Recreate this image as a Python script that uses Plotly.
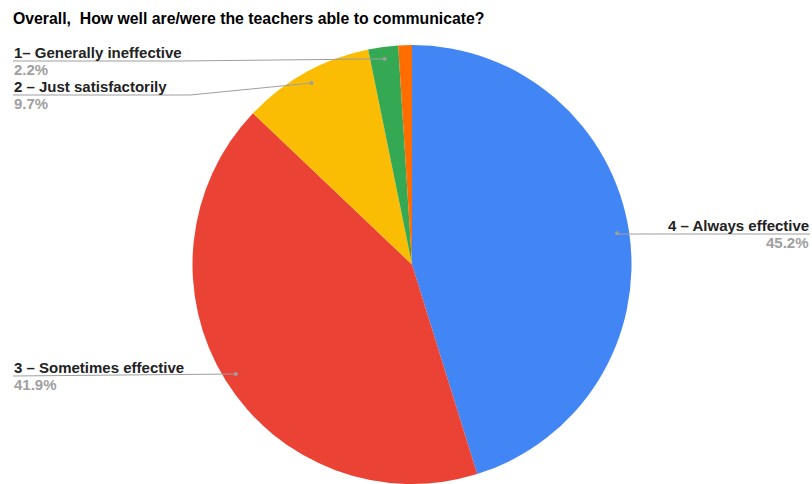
import math
import plotly.graph_objects as go

# ---- data ----
categories = ["4 – Always effective", "3 – Sometimes effective", "2 – Just satisfactorily",
              "1– Generally ineffective", "0 – Not effective"]
values = [45.2, 41.9, 9.7, 2.2, 1.0]
colors = ["#4285F4", "#EA4335", "#FBBC04", "#34A853", "#FF6D01"]
title_text = "Overall,\u00a0 How well are/were the teachers able to communicate?"

# ---- layout constants ----
W, H = 812, 484
CX, CY, R = 412, 264.5, 219.5
FONT = "Arial, Liberation Sans, sans-serif"
LINE_COL = "#9e9e9e"

def px(x):
    return x / W

def py(y):
    return 1 - y / H

fig = go.Figure(go.Pie(
    labels=categories, values=values, sort=False, direction="clockwise", rotation=0,
    marker=dict(colors=colors, line=dict(width=0)),
    textinfo="none", hoverinfo="label+percent", showlegend=False,
    domain=dict(x=[px(CX - R), px(CX + R)], y=[0, 2 * R / H]),
))

# label placement: index -> (side, underline y, bend x)
placement = {
    0: ("right", 234, None),
    1: ("left", 376, None),
    2: ("left", 95, 190),
    3: ("left", 61, 180),
}

total = sum(values)
cum = 0.0
shapes, annotations = [], []
for i, v in enumerate(values):
    mid = (cum + v / 2) / total
    cum += v
    if i not in placement:
        continue
    ang = 2 * math.pi * mid
    dx = CX + 0.945 * R * math.sin(ang)
    dy = CY - 0.945 * R * math.cos(ang)
    side, uy, bend = placement[i]
    if side == "right":
        path = f"M {px(dx)},{py(uy)} L {px(810)},{py(uy)}"
        tx, xa = px(810), "right"
    else:
        if bend is None:
            path = f"M {px(13)},{py(uy)} L {px(dx)},{py(dy)}"
        else:
            path = f"M {px(13)},{py(uy)} L {px(bend)},{py(uy)} L {px(dx)},{py(dy)}"
        tx, xa = px(13), "left"
    shapes.append(dict(type="path", xref="paper", yref="paper", path=path,
                       line=dict(color=LINE_COL, width=1)))
    shapes.append(dict(type="circle", xref="paper", yref="paper",
                       x0=px(dx - 2), x1=px(dx + 2), y0=py(dy - 2), y1=py(dy + 2),
                       fillcolor=LINE_COL, line=dict(width=0)))
    annotations.append(dict(xref="paper", yref="paper", x=tx, y=py(uy + 1), xanchor=xa,
                            yanchor="bottom", showarrow=False, text=f"<b>{categories[i]}</b>",
                            font=dict(family=FONT, size=15, color="#222222"),
                            borderpad=0))
    annotations.append(dict(xref="paper", yref="paper", x=tx, y=py(uy - 1), xanchor=xa,
                            yanchor="top", showarrow=False,
                            text=f"<b>{v / total * 100:.1f}%</b>",
                            font=dict(family=FONT, size=15, color="#a0a0a0"),
                            borderpad=0))

fig.update_layout(
    width=W, height=H, margin=dict(l=0, r=0, t=0, b=0),
    paper_bgcolor="white", plot_bgcolor="white",
    title=dict(text=f"<b>{title_text}</b>", x=px(13), xanchor="left",
               y=1 - 18 / H, yanchor="middle",
               font=dict(family=FONT, size=15.8, color="#000000")),
    shapes=shapes, annotations=annotations,
)

fig.write_html("out.html", config={"displayModeBar": False},
               post_script="document.body.style.margin='0';document.body.style.overflow='hidden';")
